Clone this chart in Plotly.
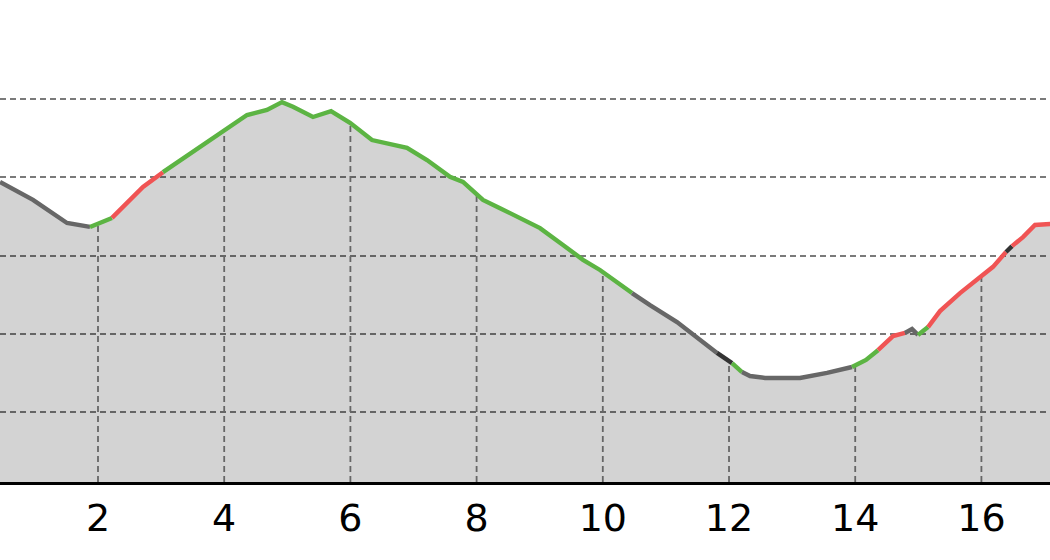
import numpy as np
import plotly.graph_objects as go

# distance (km) along the route
distance = [0.447, 0.970, 1.509, 1.873, 2.222, 2.460, 2.713, 3.030, 3.506, 4.044,
            4.361, 4.678, 4.916, 5.090, 5.407, 5.693, 5.994, 6.342, 6.739, 6.897,
            7.214, 7.578, 7.784, 8.101, 8.371, 8.688, 9.005, 9.369, 9.686, 9.955,
            10.225, 10.463, 10.748, 11.176, 11.493, 11.810, 12.048, 12.206, 12.333, 12.571,
            13.125, 13.553, 13.949, 14.171, 14.361, 14.599, 14.789, 14.900, 14.995, 15.154,
            15.344, 15.661, 15.930, 16.184, 16.390, 16.485, 16.659, 16.849, 17.150]
# elevation (m)
elevation = [78.8, 74.2, 68.3, 67.3, 69.6, 73.4, 77.5, 81.3, 86.5, 92.6,
             95.9, 97.2, 99.2, 98.0, 95.4, 96.9, 93.9, 89.5, 88.2, 87.5,
             84.4, 80.1, 78.8, 74.2, 72.1, 69.6, 67.0, 62.7, 58.9, 56.3,
             53.2, 50.4, 47.3, 43.0, 39.2, 35.1, 32.5, 30.2, 29.2, 28.7,
             28.7, 30.0, 31.5, 33.3, 35.8, 39.4, 40.2, 41.2, 39.7, 41.7,
             45.8, 50.4, 53.7, 57.1, 60.9, 62.4, 64.7, 67.8, 68.1]
# class of the segment starting at each point
segment_class = ["grey", "grey", "grey", "green", "red", "red", "red", "green", "green", "green",
                 "green", "green", "green", "green", "green", "green", "green", "green", "green", "green",
                 "green", "green", "green", "green", "green", "green", "green", "green", "green", "green",
                 "green", "grey", "grey", "grey", "grey", "dark", "green", "grey", "grey", "grey",
                 "grey", "grey", "green", "green", "red", "red", "grey", "grey", "green", "red",
                 "red", "red", "red", "red", "dark", "red", "red", "red"]

x_ticks = [2, 4, 6, 8, 10, 12, 14, 16]
grid_levels = [20, 40, 60, 80, 100]

colors = {"grey": "#676767", "dark": "#333333", "green": "#5cb443", "red": "#f05454"}
y_min = 2.11

fig = go.Figure()
fig.add_trace(go.Scatter(x=distance, y=elevation, mode="lines", line=dict(width=0),
                         fill="tozeroy", fillcolor="rgba(0,0,0,0.173)",
                         hoverinfo="skip", showlegend=False))

# vertical grid lines only under the profile
tick_elev = np.interp(x_ticks, distance, elevation)
vx, vy = [], []
for t, e in zip(x_ticks, tick_elev):
    vx += [t, t, None]
    vy += [y_min, float(e), None]
fig.add_trace(go.Scatter(x=vx, y=vy, mode="lines",
                         line=dict(color="#666666", width=1.8, dash="6px,4px"),
                         hoverinfo="skip", showlegend=False))

# group consecutive segments of the same class
i = 0
n = len(segment_class)
while i < n:
    j = i
    while j + 1 < n and segment_class[j + 1] == segment_class[i]:
        j += 1
    fig.add_trace(go.Scatter(x=distance[i:j + 2], y=elevation[i:j + 2], mode="lines",
                             line=dict(color=colors[segment_class[i]], width=4.4),
                             showlegend=False))
    i = j + 1

fig.update_layout(
    width=1050, height=560,
    margin=dict(l=0, r=0, t=0, b=78),
    plot_bgcolor="white", paper_bgcolor="white",
    xaxis=dict(range=[0.447, 17.087], tickvals=x_ticks, ticktext=[str(t) for t in x_ticks],
               showgrid=False,
               showline=True, linecolor="black", linewidth=3, ticks="", zeroline=False,
               tickfont=dict(family="DejaVu Sans", size=38, color="black")),
    yaxis=dict(range=[y_min, 125.3], tickvals=grid_levels, showticklabels=False,
               showgrid=True, gridcolor="#7a7a7a", gridwidth=1.8, griddash="6px,4px",
               zeroline=False, ticks=""),
)
fig.write_html("out.html", config={"displayModeBar": False},
               post_script="document.body.style.margin='0px';")
